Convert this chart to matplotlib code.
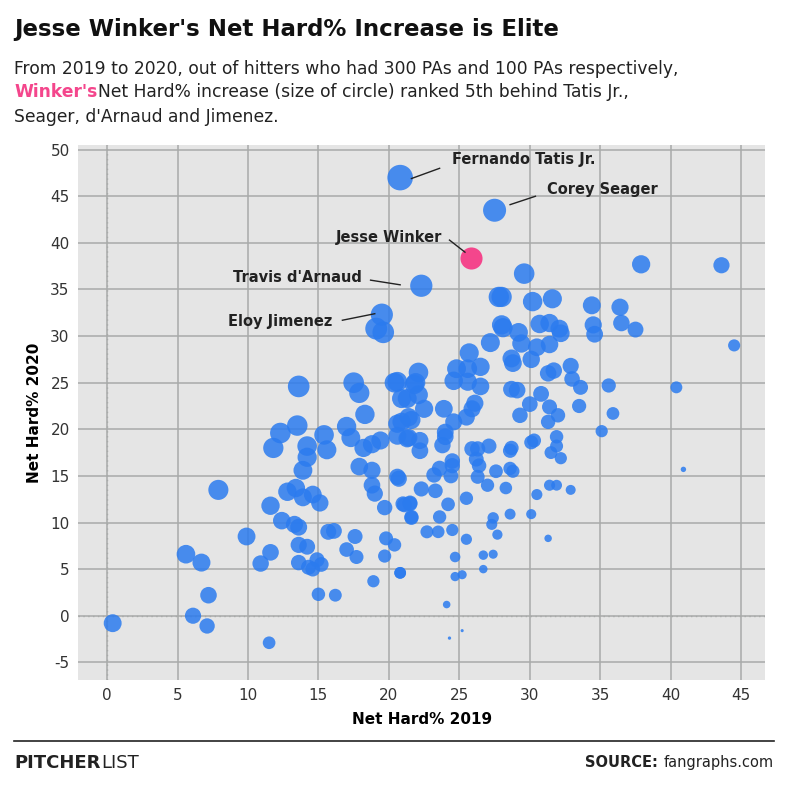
import matplotlib
matplotlib.use("Agg")
import matplotlib.pyplot as plt
import numpy as np
plt.rcParams['axes.unicode_minus'] = False

x2019 = [0.4,6.1,7.1,7.2,5.6,6.7,7.9,9.9,11.6,10.9,11.5,11.6,12.4,12.8,13.4,13.3,13.6,13.9,14.6,15.1,13.9,14.2,14.2,13.5,12.3,11.8,13.6,15.4,15.6,13.6,14.2,13.6,14.3,14.6,15.2,14.9,15.0,16.2,15.7,16.1,17.0,17.7,17.6,17.0,17.3,17.5,17.9,18.3,17.9,18.8,18.8,19.0,18.2,18.8,19.4,20.4,21.3,20.7,19.7,21.1,21.5,21.6,19.8,20.4,19.7,18.9,20.8,20.6,21.4,21.4,21.9,19.6,19.1,
 20.8,27.5,22.3,19.5,29.6,37.9,43.6,27.8,28.0,30.2,31.6,34.4,36.4,28.0,28.1,29.2,30.7,31.4,32.1,32.2,34.5,34.6,36.5,37.5,44.5,27.2,29.4,30.5,31.4,25.7,24.8,25.6,26.5,28.7,28.8,30.1,31.3,31.7,32.9,33.0,22.1,20.6,21.8,24.6,25.6,26.5,33.6,35.6,40.4,22.1,20.9,22.5,23.9,26.1,25.9,25.5,24.6,24.0,20.9,21.6,28.7,29.1,30.8,30.0,31.4,29.3,31.3,32.0,33.5,35.9,35.1,20.6,21.3,22.2,22.2,23.8,24.0,25.9,26.3,27.1,26.2,26.4,24.5,24.5,23.6,23.2,24.4,20.6,26.3,27.6,27.0,28.6,28.7,28.6,28.8,28.3,30.1,30.3,31.9,31.9,31.5,32.2,31.4,31.9,32.9,30.5,22.3,23.3,21.0,21.5,21.6,24.2,25.5,23.6,22.7,23.5,24.5,25.5,27.4,27.3,27.7,28.6,30.1,31.3,40.9,24.7,26.7,27.4,26.7,24.7,25.2,20.8,24.1,25.2,24.3]
y2020 = [-0.8,0.0,-1.1,2.2,6.6,5.7,13.5,8.5,6.8,5.6,-2.9,11.8,10.2,13.3,13.7,9.8,9.5,12.7,13.0,12.1,15.6,17.0,18.2,20.4,19.6,18.0,24.6,19.4,17.8,7.6,7.4,5.7,5.2,5.0,5.5,6.0,2.3,2.2,9.0,9.1,7.1,6.3,8.5,20.3,19.1,25.0,23.9,21.6,16.0,15.6,14.0,13.1,18.0,18.4,18.8,25.0,23.3,14.7,11.6,11.9,12.1,10.5,8.3,7.6,6.4,3.7,4.6,20.6,19.1,21.3,25.0,30.4,30.8,
 47.0,43.5,35.4,32.3,36.7,37.7,37.6,34.2,34.2,33.7,34.0,33.3,33.1,31.2,30.9,30.4,31.3,31.4,30.8,30.3,31.2,30.2,31.4,30.7,29.0,29.3,29.2,28.8,29.1,28.2,26.5,26.5,26.7,27.6,27.1,27.5,26.0,26.3,26.8,25.4,26.1,25.1,24.8,25.2,25.1,24.6,24.5,24.7,24.5,23.7,23.3,22.2,22.2,22.8,22.2,21.3,20.8,19.7,20.8,21.0,24.3,24.2,23.8,22.7,22.4,21.5,20.8,21.5,22.5,21.7,19.8,19.3,19.0,18.8,17.7,18.3,19.2,17.9,17.9,18.2,16.8,16.1,16.6,16.1,15.8,15.1,15.0,14.9,14.9,15.5,14.0,17.7,18.0,15.8,15.5,13.7,18.6,18.8,19.2,18.2,17.5,16.9,14.0,14.0,13.5,13.0,13.6,13.4,12.0,12.0,10.6,11.95,12.6,10.6,9.0,9.0,9.2,8.2,10.5,9.8,8.7,10.9,10.9,8.3,15.7,6.3,6.5,6.6,5.0,4.2,4.4,4.6,1.2,-1.6,-2.4]
players = ["Fernando Tatis Jr.", "Corey Seager", "Jesse Winker", "Travis d'Arnaud", "Eloy Jimenez"]
winker_x, winker_y = 25.8, 38.4

fig = plt.figure(figsize=(7.88, 7.88), dpi=100)
fig.patch.set_facecolor("white")
ax = fig.add_axes([0.099, 0.137, 0.872, 0.679])
ax.set_facecolor("#e5e5e5")
x = np.array(x2019); y = np.array(y2020)
s = 6.3 * np.clip(y - x + 27.6, 0.3, None)
ax.scatter(x, y, s=s, color="#2b7bef", alpha=0.85, linewidths=0, zorder=3)
ax.scatter([winker_x], [winker_y], s=6.3*(winker_y-winker_x+27.6), color="#f4468c", linewidths=0, zorder=4)

ax.set_xlim(-2.06, 46.7); ax.set_ylim(-6.9, 50.5)
ax.set_xticks(range(0, 50, 5)); ax.set_yticks(range(-5, 55, 5))
ax.grid(True, color="#a8aaa9", lw=1.1, zorder=0)
ax.axvline(0, color="#e5e5e5", lw=1.5, zorder=1)
ax.axhline(0, color="#e5e5e5", lw=1.5, zorder=1)
ax.axvline(0, color="#a8aaa9", lw=1, ls=(0, (1, 2.5)), zorder=1)
ax.axhline(0, color="#a8aaa9", lw=1, ls=(0, (1, 2.5)), zorder=1)
for sp in ax.spines.values(): sp.set_visible(False)
ax.tick_params(length=0, labelsize=11, colors="#333333", pad=6)
ax.set_xlabel("Net Hard% 2019", fontsize=11, fontweight="bold", labelpad=6)
ax.set_ylabel("Net Hard% 2020", fontsize=11, fontweight="bold", labelpad=6)

texts = [(24.5, 48.9, "left"), (31.2, 45.7, "left"), (23.8, 40.6, "right"), (18.1, 36.3, "right"), (16.0, 31.6, "right")]
lines = [((23.6, 21.6), (48.0, 46.9)), ((30.4, 28.6), (45.0, 44.1)), ((24.3, 25.4), (40.3, 39.0)),
         ((18.7, 20.8), (36.0, 35.5)), ((16.7, 19.0), (31.7, 32.4))]
for (tx, ty, ha), (lx, ly), name in zip(texts, lines, players):
    ax.text(tx, ty, name, fontsize=10.5, fontweight="bold", ha=ha, va="center", color="#222222", zorder=5)
    ax.plot(lx, ly, color="#222222", lw=1, zorder=5)

fig.text(0.018, 0.962, "Jesse Winker's Net Hard% Increase is Elite", fontsize=16.5, fontweight="bold", color="#111111", va="center")
fig.text(0.018, 0.913, "From 2019 to 2020, out of hitters who had 300 PAs and 100 PAs respectively,", fontsize=12.3, color="#222222", va="center")
t1 = fig.text(0.018, 0.883, "Winker's", fontsize=12.3, color="#f4468c", fontweight="bold", va="center")
fig.text(0.125, 0.883, "Net Hard% increase (size of circle) ranked 5th behind Tatis Jr.,", fontsize=12.3, color="#222222", va="center")
fig.text(0.018, 0.852, "Seager, d'Arnaud and Jimenez.", fontsize=12.3, color="#222222", va="center")

fig.add_artist(plt.Line2D([0.018, 0.982], [0.060, 0.060], color="#222222", lw=1.2))
fig.text(0.018, 0.032, "PITCHER", fontsize=13, fontweight="bold", color="#222222", va="center")
fig.text(0.128, 0.032, "LIST", fontsize=13, color="#222222", va="center")
fig.text(0.982, 0.032, "fangraphs.com", fontsize=10.5, color="#222222", va="center", ha="right")
fig.text(0.835, 0.032, "SOURCE:", fontsize=10.5, fontweight="bold", color="#222222", va="center", ha="right")
fig.savefig("out.png", dpi=100)
